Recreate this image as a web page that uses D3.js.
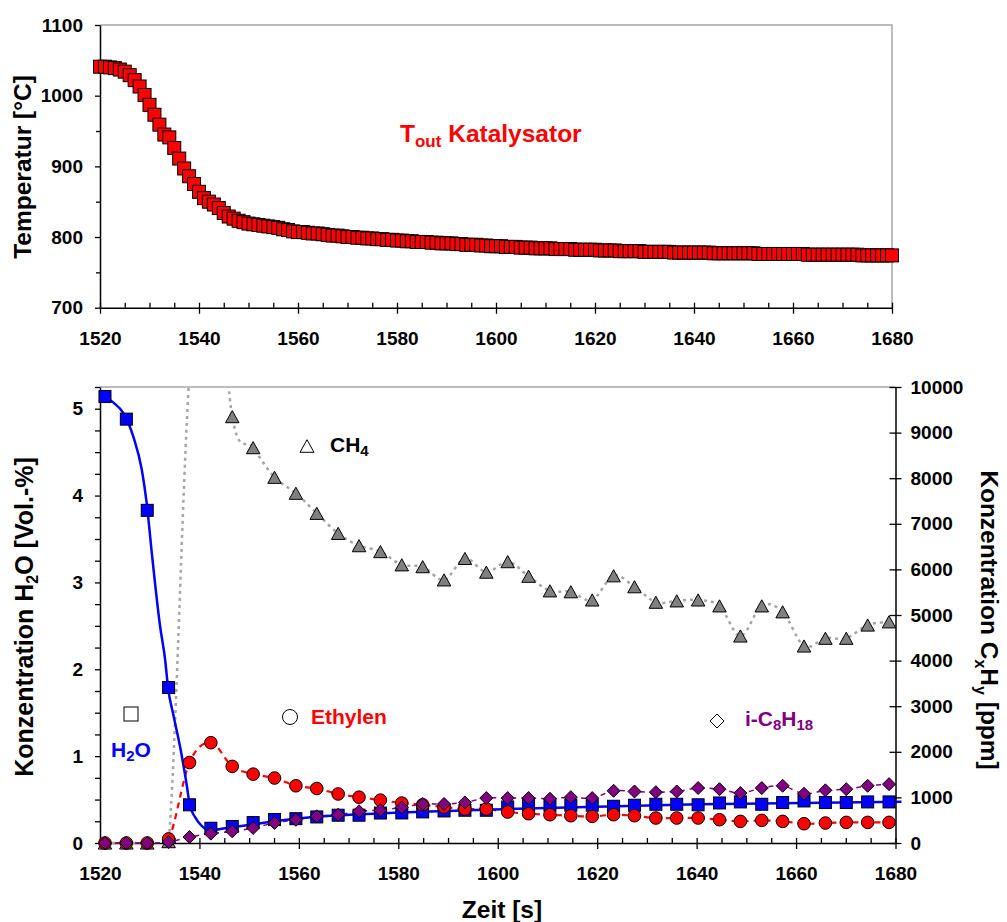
<!DOCTYPE html>
<html>
<head>
<meta charset="utf-8">
<script src="https://cdn.jsdelivr.net/npm/d3@7"></script>
<style>
  html, body { margin: 0; padding: 0; background: #fff; }
  svg { display: block; font-family: "Liberation Sans", Arial, sans-serif; font-weight: bold; }
</style>
</head>
<body>
<svg id="chart" width="1007" height="922"></svg>
<script>
// ---------- Upper panel: outlet temperature of the catalyst ----------
const tempStart = 1520;
const tempValues = [
  1041, 1041, 1040, 1039, 1037, 1034, 1029, 1022, 1013, 1001,
  987, 973, 959, 945, 941, 926, 911, 897, 886, 875,
  864, 855, 850, 846, 841, 834, 829, 826, 823, 821,
  819, 818, 817, 816, 815, 814, 813, 811, 810, 808,
  807, 807, 806, 805, 805, 804, 803, 802, 802, 801,
  800, 800, 799, 799, 798, 798, 797, 797, 796, 796,
  795, 795, 794, 794, 793, 793, 793, 792, 792, 791,
  791, 791, 790, 790, 789, 789, 789, 788, 788, 787,
  787, 787, 786, 786, 786, 785, 785, 785, 784, 784,
  784, 784, 783, 783, 783, 783, 782, 782, 782, 782,
  782, 781, 781, 781, 781, 780, 780, 780, 780, 780,
  779, 779, 779, 779, 779, 779, 778, 778, 778, 778,
  778, 778, 778, 778, 777, 777, 777, 777, 777, 777,
  777, 777, 777, 776, 776, 776, 776, 776, 776, 776,
  776, 776, 776, 775, 775, 775, 775, 775, 775, 775,
  775, 775, 775, 775, 774, 774, 774, 774, 774, 774, 774
];
const tempTicksY = [700, 800, 900, 1000, 1100];
const tempMinorY = [750, 850, 950, 1050];

// ---------- Lower panel: concentrations ----------
const times = [1521, 1525.3, 1529.5, 1533.8, 1538, 1542.3, 1546.6, 1550.8, 1555.1, 1559.4,
  1563.6, 1567.9, 1572.1, 1576.4, 1580.7, 1584.9, 1589.2, 1593.4, 1597.7, 1602,
  1606.2, 1610.5, 1614.7, 1619, 1623.3, 1627.5, 1631.8, 1636, 1640.3, 1644.6,
  1648.8, 1653.1, 1657.3, 1661.6, 1665.9, 1670.1, 1674.4, 1678.7];
const h2o = [5.14, 4.88, 3.83, 1.79, 0.44, 0.17, 0.19, 0.235, 0.27, 0.28,
  0.30, 0.32, 0.32, 0.345, 0.346, 0.358, 0.369, 0.377, 0.377, 0.415,
  0.435, 0.435, 0.435, 0.435, 0.423, 0.435, 0.446, 0.446, 0.44, 0.461,
  0.473, 0.446, 0.466, 0.484, 0.466, 0.466, 0.473, 0.473];
const ch4 = [0, 0, 0, 30, 10300, 14000, 9350, 8670, 8020, 7670,
  7230, 6790, 6520, 6390, 6100, 6060, 5770, 6240, 5940, 6170,
  5850, 5530, 5510, 5330, 5860, 5620, 5280, 5310, 5330, 5200,
  4540, 5200, 5070, 4320, 4490, 4490, 4780, 4850];
const ethylen = [0, 0, 0, 90, 1765, 2200, 1680, 1510, 1425, 1255,
  1195, 1075, 1005, 940, 876, 839, 788, 745, 745, 679,
  642, 620, 598, 583, 620, 598, 548, 548, 548, 511,
  474, 496, 474, 423, 438, 452, 452, 452];
const isooctan = [0, 0, 0, 20, 130, 205, 255, 330, 440, 510,
  585, 620, 695, 720, 780, 855, 855, 890, 985, 985,
  985, 970, 1005, 985, 1145, 1130, 1115, 1130, 1205, 1180,
  1095, 1205, 1255, 1080, 1155, 1180, 1255, 1290];
// smoothed H2O trend
const h2oFitTime = [1521, 1522.7, 1524.7, 1526.7, 1528.4, 1529.4, 1530.4, 1532.1, 1533.1, 1533.7,
  1534.7, 1536.1, 1537.3, 1538.1, 1539.1, 1540.4, 1542.3, 1544.8, 1549.5, 1556.2,
  1562.9, 1575.9, 1607.8, 1640.4, 1681.2];
const h2oFitValue = [5.14, 5.07, 4.95, 4.68, 4.30, 3.91, 3.35, 2.49, 2.11, 1.78,
  1.49, 1.11, 0.72, 0.43, 0.30, 0.20, 0.146, 0.166, 0.204, 0.26,
  0.30, 0.34, 0.40, 0.446, 0.475];

const xTicks = [1520, 1540, 1560, 1580, 1600, 1620, 1640, 1660, 1680];
const xMinor = d3.range(1525, 1680, 5).filter(v => v % 20 !== 0);
const leftTicks = [0, 1, 2, 3, 4, 5];
const leftMinor = [0.25, 0.5, 0.75, 1.25, 1.5, 1.75, 2.25, 2.5, 2.75, 3.25, 3.5, 3.75, 4.25, 4.5, 4.75, 5.25];
const rightTicks = [0, 1000, 2000, 3000, 4000, 5000, 6000, 7000, 8000, 9000, 10000];

const svg = d3.select("#chart");
const tickFont = 19;

function styleAxis(g) {
  g.selectAll("path.domain").attr("stroke", "#000").attr("stroke-width", 1.5);
  g.selectAll(".tick line").attr("stroke", "#000").attr("stroke-width", 1.3);
  g.selectAll("text").attr("font-size", tickFont).attr("font-weight", "bold")
    .attr("fill", "#000").attr("font-family", "'Liberation Sans', Arial, sans-serif");
}

// marker shapes, centred on their bounding box
const triPath = s => `M0,${-s * 0.45}L${s / 2},${s * 0.45}L${-s / 2},${s * 0.45}Z`;
const diaPath = s => `M0,${-s / 2}L${s / 2},0L0,${s / 2}L${-s / 2},0Z`;

// ================= upper panel =================
const xT = d3.scaleLinear([1520, 1680], [100, 892]);
const yT = d3.scaleLinear([700, 1100], [307.7, 25]);

// frame (top and right)
svg.append("path")
  .attr("d", `M${xT(1520)},${yT(1100)}H${xT(1680)}V${yT(700)}`)
  .attr("fill", "none").attr("stroke", "#a6a6a6").attr("stroke-width", 1.5);

// x axis
const gxT = svg.append("g").attr("transform", `translate(0,${yT(700)})`)
  .call(d3.axisBottom(xT).tickValues(xTicks).tickFormat(d3.format("d")).tickSizeInner(6).tickSizeOuter(0).tickPadding(18));
styleAxis(gxT);
gxT.selectAll(".tick line").attr("y1", -5);
svg.append("g").attr("transform", `translate(0,${yT(700)})`)
  .call(d3.axisBottom(xT).tickValues(xMinor).tickFormat("").tickSizeInner(-5).tickSizeOuter(0))
  .call(g => { g.select(".domain").remove(); g.selectAll("line").attr("stroke", "#000").attr("stroke-width", 1.3); });

// y axis
const gyT = svg.append("g").attr("transform", `translate(${xT(1520)},0)`)
  .call(d3.axisLeft(yT).tickValues(tempTicksY).tickFormat(d3.format("d")).tickSizeInner(5).tickSizeOuter(0).tickPadding(12));
styleAxis(gyT);
svg.append("g").attr("transform", `translate(${xT(1520)},0)`)
  .call(d3.axisLeft(yT).tickValues(tempMinorY).tickFormat("").tickSizeInner(4).tickSizeOuter(0))
  .call(g => { g.select(".domain").remove(); g.selectAll("line").attr("stroke", "#000").attr("stroke-width", 1.3); });

// temperature markers
const tempData = tempValues.map((v, i) => ({ t: tempStart + i, v }));
svg.append("g").selectAll("rect").data(tempData).join("rect")
  .attr("x", d => xT(d.t) - 6.5).attr("y", d => yT(d.v) - 6.5)
  .attr("width", 13).attr("height", 13)
  .attr("fill", "#ff0000").attr("stroke", "#000").attr("stroke-width", 1);

// label
const lbl = svg.append("text").attr("x", 400).attr("y", 142)
  .attr("fill", "#ff0000").attr("font-size", 24.5);
lbl.append("tspan").text("T");
lbl.append("tspan").attr("font-size", 17).attr("dy", 5).text("out");
lbl.append("tspan").attr("dy", -5).text(" Katalysator");

// y title
svg.append("text").attr("transform", `translate(31,167) rotate(-90)`)
  .attr("text-anchor", "middle").attr("font-size", 24.5).text("Temperatur [°C]");

// ================= lower panel =================
const xB = d3.scaleLinear([1520, 1680], [100, 895.5]);
const yL = d3.scaleLinear([0, 5.25], [843, 387]);
const yR = d3.scaleLinear([0, 10000], [843, 387]);

svg.append("defs").append("clipPath").attr("id", "lineClip")
  .append("rect").attr("x", 100).attr("y", 387).attr("width", 810).attr("height", 457);

// top border
svg.append("line").attr("x1", xB(1520)).attr("x2", xB(1680)).attr("y1", 387).attr("y2", 387)
  .attr("stroke", "#a6a6a6").attr("stroke-width", 1.5);

// bottom axis
const gxB = svg.append("g").attr("transform", `translate(0,843)`)
  .call(d3.axisBottom(xB).tickValues(xTicks).tickFormat(d3.format("d")).tickSizeInner(6).tickSizeOuter(0).tickPadding(18));
styleAxis(gxB);
gxB.selectAll(".tick line").attr("y1", -5);
svg.append("g").attr("transform", `translate(0,843)`)
  .call(d3.axisBottom(xB).tickValues(xMinor).tickFormat("").tickSizeInner(-5).tickSizeOuter(0))
  .call(g => { g.select(".domain").remove(); g.selectAll("line").attr("stroke", "#000").attr("stroke-width", 1.3); });

// left axis
const gyL = svg.append("g").attr("transform", `translate(${xB(1520)},0)`)
  .call(d3.axisLeft(yL).tickValues(leftTicks).tickFormat(d3.format("d")).tickSizeInner(5).tickSizeOuter(0).tickPadding(12));
styleAxis(gyL);
svg.append("g").attr("transform", `translate(${xB(1520)},0)`)
  .call(d3.axisLeft(yL).tickValues(leftMinor).tickFormat("").tickSizeInner(5).tickSizeOuter(0))
  .call(g => { g.select(".domain").remove(); g.selectAll("line").attr("stroke", "#000").attr("stroke-width", 1.3); });

// right axis
const gyR = svg.append("g").attr("transform", `translate(${xB(1680)},0)`)
  .call(d3.axisRight(yR).tickValues(rightTicks).tickFormat(d3.format("d")).tickSizeInner(6).tickSizeOuter(0).tickPadding(9));
styleAxis(gyR);
gyR.selectAll(".tick line").attr("x1", -6);

const lines = svg.append("g").attr("clip-path", "url(#lineClip)");
const rows = times.map((t, i) => ({ t, h2o: h2o[i], ch4: ch4[i], eth: ethylen[i], c8: isooctan[i] }));
const smooth = d3.curveCardinal.tension(0);

// CH4 dotted line
lines.append("path").datum(rows)
  .attr("d", d3.line().x(d => xB(d.t)).y(d => yR(d.ch4)).curve(smooth))
  .attr("fill", "none").attr("stroke", "#a6a6a6").attr("stroke-width", 2.5).attr("stroke-dasharray", "3,4");

// ethylene dashed line
lines.append("path").datum(rows)
  .attr("d", d3.line().x(d => xB(d.t)).y(d => yR(d.eth)).curve(smooth))
  .attr("fill", "none").attr("stroke", "#ff0000").attr("stroke-width", 2.2).attr("stroke-dasharray", "6,5");

// iso-octane dashed line
lines.append("path").datum(rows)
  .attr("d", d3.line().x(d => xB(d.t)).y(d => yR(d.c8)).curve(smooth))
  .attr("fill", "none").attr("stroke", "#800080").attr("stroke-width", 1.5).attr("stroke-dasharray", "5,5");

// H2O trend line
const fit = h2oFitTime.map((t, i) => ({ t, v: h2oFitValue[i] }));
svg.append("path").datum(fit)
  .attr("d", d3.line().x(d => xB(d.t)).y(d => yL(d.v)).curve(d3.curveMonotoneX))
  .attr("fill", "none").attr("stroke", "#0000ff").attr("stroke-width", 2.5);

// markers (points beyond the axis maximum are not drawn)
const marks = svg.append("g");
marks.append("g").selectAll("path").data(rows.filter(d => d.ch4 <= 10000)).join("path")
  .attr("transform", d => `translate(${xB(d.t)},${yR(d.ch4)})`)
  .attr("d", triPath(13.5))
  .attr("fill", "#808080").attr("stroke", "#000").attr("stroke-width", 1);
marks.append("g").selectAll("rect").data(rows).join("rect")
  .attr("x", d => xB(d.t) - 6).attr("y", d => yL(d.h2o) - 6)
  .attr("width", 12).attr("height", 12)
  .attr("fill", "#0000ff").attr("stroke", "#000").attr("stroke-width", 1);
marks.append("g").selectAll("circle").data(rows).join("circle")
  .attr("cx", d => xB(d.t)).attr("cy", d => yR(d.eth)).attr("r", 6.3)
  .attr("fill", "#ff0000").attr("stroke", "#000").attr("stroke-width", 1);
marks.append("g").selectAll("path").data(rows).join("path")
  .attr("transform", d => `translate(${xB(d.t)},${yR(d.c8)})`)
  .attr("d", diaPath(13))
  .attr("fill", "#800080").attr("stroke", "#000").attr("stroke-width", 1);

// legend entries
svg.append("path").attr("transform", "translate(307,446)").attr("d", triPath(14))
  .attr("fill", "#fff").attr("stroke", "#000").attr("stroke-width", 1);
const tCH4 = svg.append("text").attr("x", 330).attr("y", 452).attr("font-size", 21).attr("fill", "#000");
tCH4.append("tspan").text("CH");
tCH4.append("tspan").attr("font-size", 15).attr("dy", 4).text("4");

svg.append("rect").attr("x", 124).attr("y", 707).attr("width", 14).attr("height", 14)
  .attr("fill", "#fff").attr("stroke", "#000").attr("stroke-width", 1);
const tH2O = svg.append("text").attr("x", 111).attr("y", 757).attr("font-size", 21).attr("fill", "#0000ff");
tH2O.append("tspan").text("H");
tH2O.append("tspan").attr("font-size", 15).attr("dy", 4).text("2");
tH2O.append("tspan").attr("dy", -4).text("O");

svg.append("circle").attr("cx", 290).attr("cy", 717).attr("r", 7.5)
  .attr("fill", "#fff").attr("stroke", "#000").attr("stroke-width", 1);
svg.append("text").attr("x", 311).attr("y", 724).attr("font-size", 21).attr("fill", "#ff0000").text("Ethylen");

svg.append("path").attr("transform", "translate(717,721)").attr("d", diaPath(14))
  .attr("fill", "#fff").attr("stroke", "#000").attr("stroke-width", 1);
const tC8 = svg.append("text").attr("x", 745).attr("y", 726).attr("font-size", 21).attr("fill", "#800080");
tC8.append("tspan").text("i-C");
tC8.append("tspan").attr("font-size", 15).attr("dy", 4).text("8");
tC8.append("tspan").attr("dy", -4).text("H");
tC8.append("tspan").attr("font-size", 15).attr("dy", 4).text("18");

// axis titles
const tl = svg.append("text").attr("transform", "translate(33,617) rotate(-90)")
  .attr("text-anchor", "middle").attr("font-size", 25);
tl.append("tspan").text("Konzentration H");
tl.append("tspan").attr("font-size", 16).attr("dy", 5).text("2");
tl.append("tspan").attr("dy", -5).text("O [Vol.-%]");

const tr = svg.append("text").attr("transform", "translate(981,620) rotate(90)")
  .attr("text-anchor", "middle").attr("font-size", 24.5);
tr.append("tspan").text("Konzentration C");
tr.append("tspan").attr("font-size", 16).attr("dy", 6).text("x");
tr.append("tspan").attr("dy", -6).text("H");
tr.append("tspan").attr("font-size", 16).attr("dy", 6).text("y");
tr.append("tspan").attr("dy", -6).text(" [ppm]");

svg.append("text").attr("x", 502).attr("y", 918).attr("text-anchor", "middle")
  .attr("font-size", 24.5).text("Zeit [s]");
</script>
</body>
</html>
